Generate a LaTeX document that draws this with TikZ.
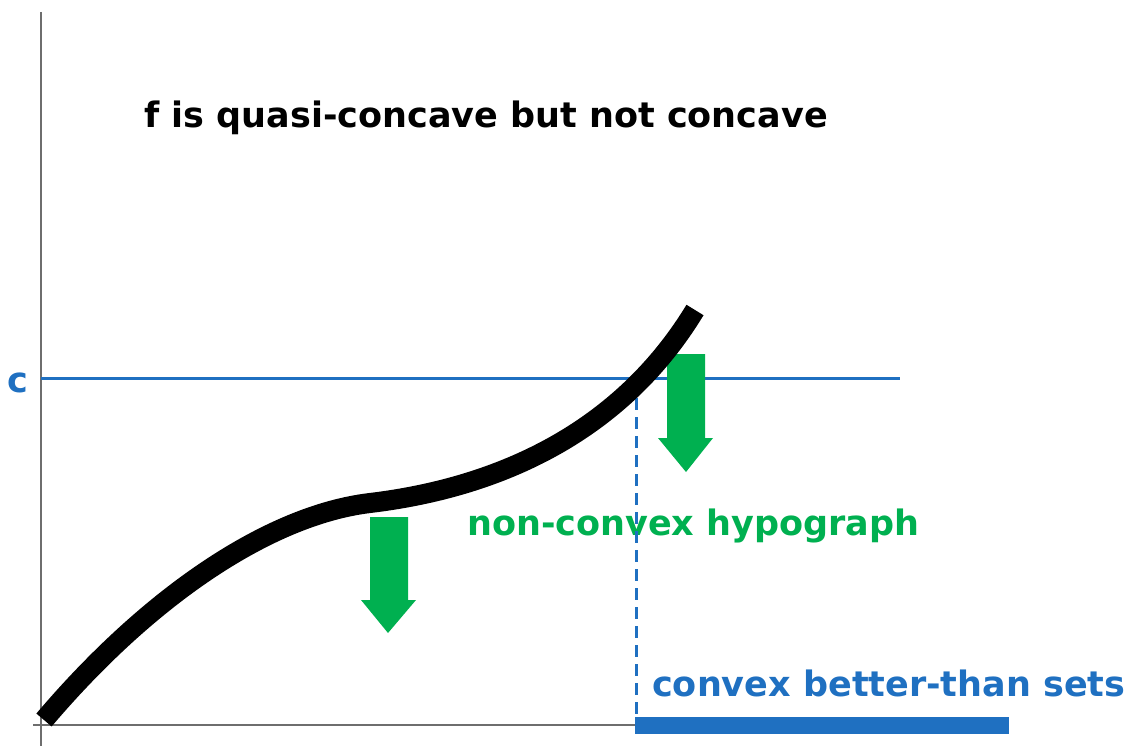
\documentclass[tikz,border=0pt]{standalone}
\usepackage{fontspec}
\setmainfont{DejaVu Sans}
\definecolor{cblue}{RGB}{31,112,193}
\definecolor{cgreen}{RGB}{0,176,80}
\definecolor{axgray}{RGB}{110,110,110}
\begin{document}
\begin{tikzpicture}[x=1pt,y=-1pt,
  axis/.style={draw=axgray,line width=1.6},
  lbl/.style={inner sep=0pt,font=\bfseries\fontsize{35}{42}\selectfont},
  garrow/.style={fill=cgreen,draw=none},
  curve/.style={line width=20,line cap=butt}]
\useasboundingbox (0,0) rectangle (1145,746);
% axes
\coordinate (ytop) at (41,12);
\coordinate (ybot) at (41,746);
\coordinate (xleft) at (33,725);
\coordinate (xright) at (636,725);
\draw[axis] (ytop) -- (ybot);
\draw[axis] (xleft) -- (xright);
% level line c
\coordinate (cl) at (41,378);
\coordinate (cr) at (900,378);
\draw[cblue,line width=3] (cl) -- (cr);
\node[lbl,text=cblue,anchor=base west] (clab) at (7,392) {c};
% texts
\node[lbl,anchor=base west] (title) at (144,128) {f is quasi-concave but not concave};
\node[lbl,text=cgreen,anchor=base west] (hypo) at (467,535) {non-convex hypograph};
\node[lbl,text=cblue,anchor=base west] (better) at (652,696) {convex better-than sets};
% blue bar
\coordinate (bl) at (635,725);
\coordinate (br) at (1009,725);
\draw[cblue,line width=17] (bl) -- (br);
% dashed line
\coordinate (dtop) at (636,398);
\coordinate (dbot) at (636,725);
\draw[cblue,line width=3,dash pattern=on 12 off 7] (dtop) -- (dbot);
% green arrows
\fill[garrow] (370,517) -- (408,517) -- (408,600) -- (416,600) -- (388,633) -- (361,600) -- (370,600) -- cycle;
\fill[garrow] (667,354) -- (705,354) -- (705,438) -- (713,438) -- (686,472) -- (658,438) -- (667,438) -- cycle;
% curve
\coordinate (c0) at (44,720);
\coordinate (c1) at (370,503);
\coordinate (c2) at (695,310);
\draw[curve] (c0) .. controls (150,595) and (270,515) .. (c1)
  .. controls (470,491) and (610,450) .. (c2);
\end{tikzpicture}
\end{document}
